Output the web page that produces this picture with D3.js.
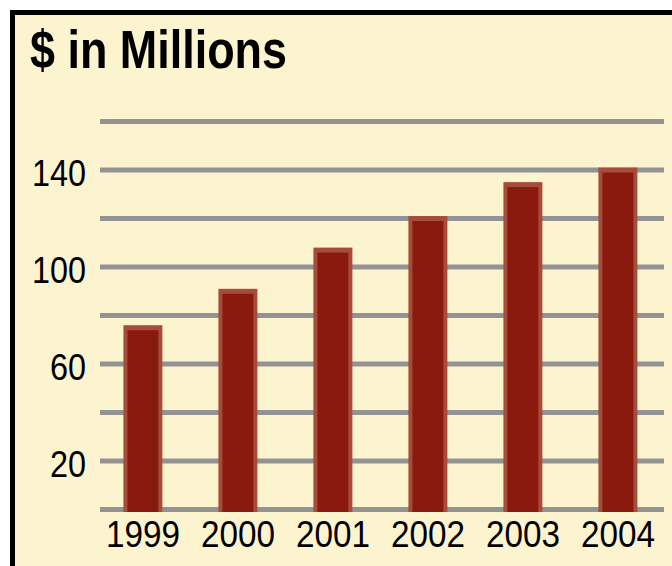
<!DOCTYPE html>
<html>
<head>
<meta charset="utf-8">
<script src="https://cdn.jsdelivr.net/npm/d3@7"></script>
<style>
  html, body { margin: 0; padding: 0; background: #ffffff; }
  svg { display: block; }
</style>
</head>
<body>
<script>
// ---- data ----
const years = ["1999", "2000", "2001", "2002", "2003", "2004"];
const values = [76, 91, 108, 121, 135, 141];
const gridTicks = [0, 20, 40, 60, 80, 100, 120, 140, 160];
const labelTicks = [20, 60, 100, 140];
const title = "$ in Millions";

// ---- layout ----
const W = 672, H = 566;
const svg = d3.select("body").append("svg").attr("width", W).attr("height", H);

// frame
svg.append("rect").attr("x", 0).attr("y", 0).attr("width", W).attr("height", H).attr("fill", "#ffffff");
svg.append("rect").attr("x", 10).attr("y", 10).attr("width", W).attr("height", H)
  .attr("fill", "#000000");
svg.append("rect").attr("x", 15).attr("y", 15).attr("width", W).attr("height", H)
  .attr("fill", "#FCF3CF");

const y = d3.scaleLinear().domain([0, 160]).range([509.5, 121.5]);
const x = d3.scaleBand().domain(years).range([95.4, 665.4]).paddingInner(0.59).paddingOuter(0.295);

const font = "'Liberation Sans', Arial, sans-serif";

// title
svg.append("text").attr("x", 30).attr("y", 68)
  .attr("font-family", font).attr("font-weight", "bold").attr("font-size", 54)
  .attr("textLength", 257).attr("lengthAdjust", "spacingAndGlyphs")
  .attr("fill", "#000").text(title);

// gridlines
svg.append("g").selectAll("line").data(gridTicks).join("line")
  .attr("x1", 100).attr("x2", 664)
  .attr("y1", d => y(d)).attr("y2", d => y(d))
  .attr("stroke", "#939393").attr("stroke-width", 5);

// y labels
svg.append("g").selectAll("text").data(labelTicks).join("text")
  .attr("x", 86).attr("y", d => y(d) + 15.5)
  .attr("text-anchor", "end")
  .attr("font-family", font).attr("font-size", 36)
  .attr("textLength", d => String(d).length * 18)
  .attr("lengthAdjust", "spacingAndGlyphs")
  .attr("fill", "#000").text(d => d);

// bars
const bars = svg.append("g").selectAll("g").data(values).join("g");
bars.append("rect")
  .attr("x", (d, i) => x(years[i]))
  .attr("width", x.bandwidth())
  .attr("y", d => y(d))
  .attr("height", d => y(0) + 2.5 - y(d))
  .attr("fill", "#A64C3A");
bars.append("rect")
  .attr("x", (d, i) => x(years[i]) + 4)
  .attr("width", x.bandwidth() - 8)
  .attr("y", d => y(d) + 5)
  .attr("height", d => y(0) + 2.5 - y(d) - 5)
  .attr("fill", "#8A1A0E");

// year labels
svg.append("g").selectAll("text").data(years).join("text")
  .attr("x", d => x(d) + x.bandwidth() / 2)
  .attr("y", 547)
  .attr("text-anchor", "middle")
  .attr("font-family", font).attr("font-size", 36)
  .attr("textLength", 74).attr("lengthAdjust", "spacingAndGlyphs")
  .attr("fill", "#000").text(d => d);
</script>
</body>
</html>
